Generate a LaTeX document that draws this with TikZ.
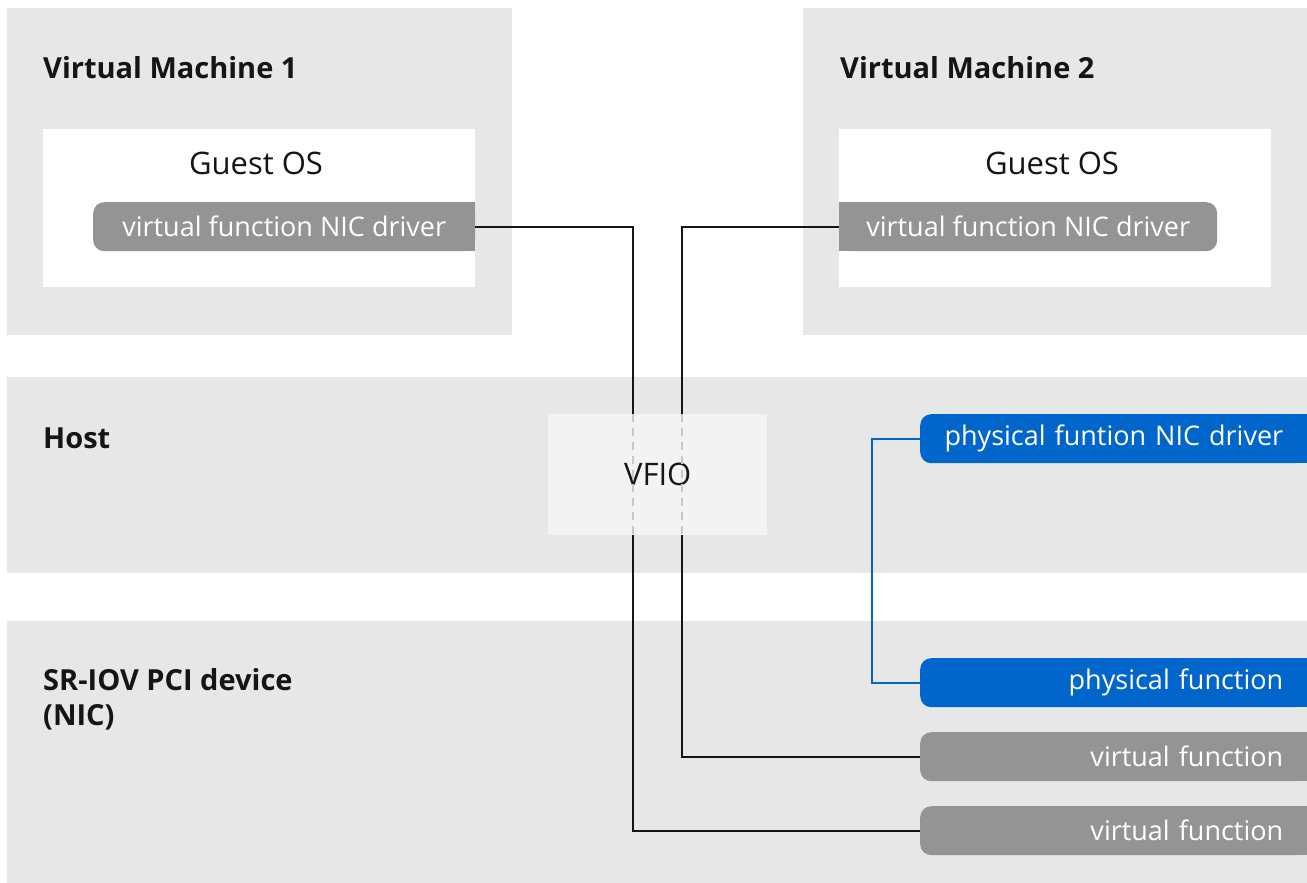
\documentclass[tikz,border=0pt]{standalone}
\usepackage{fontspec}
\setmainfont{Open Sans}
\usetikzlibrary{positioning,
                  calc}
\definecolor{panelgrey}{HTML}{E7E7E7}
\definecolor{pillgrey}{HTML}{949494}
\definecolor{rhblue}{HTML}{0066CC}
\definecolor{vfiofill}{HTML}{F3F3F3}
\definecolor{dashgrey}{HTML}{C8C8C8}
\definecolor{inkblack}{HTML}{151515}
\pgfdeclarelayer{panel}
\pgfdeclarelayer{pillbg}
\pgfsetlayers{panel,pillbg,main}

\begin{document}
\begin{tikzpicture}[x=1pt, y=-1pt, every node/.style={font=\fontsize{27}{32}\selectfont, text=inkblack}]
    \tikzset{
    panel/.style={fill=panelgrey, shape=rectangle, anchor=north west, inner sep=0pt},
    guest/.style={fill=white, shape=rectangle, anchor=north west, inner sep=0pt, minimum width=432pt, minimum height=158pt},
    title/.style={font=\fontsize{29}{35}\selectfont\bfseries, anchor=base west, inner sep=0pt, align=left},
    label/.style={font=\fontsize{31}{36}\selectfont, inner sep=0pt},
    pill/.style={fill=pillgrey, rounded corners=11pt, anchor=north west, inner sep=0pt, text=white, minimum height=49pt},
    rpill/.style={pill, inner xsep=24pt, text width=339pt, align=right},
    wire/.style={draw=inkblack, line width=2.2pt},
    bluewire/.style={draw=rhblue, line width=2.2pt},
    ghost/.style={draw=dashgrey, line width=2.2pt, dash pattern=on 8pt off 6pt}
}
\clip (0,0) rectangle (1307,883);

% grey bands and white boxes
\begin{pgfonlayer}{panel}
\node [panel, minimum width=505pt, minimum height=327pt] (vm1) at (7,8) {};
\node [panel, minimum width=510pt, minimum height=327pt] (vm2) at (803,8) {};
\node [panel, minimum width=1310pt, minimum height=196pt] (host) at (7,377) {};
\node [panel, minimum width=1310pt, minimum height=270pt] (sriov) at (7,621) {};
\node [guest] (guest1) at (43,129) {};
\node [guest] (guest2) at (839,129) {};
\end{pgfonlayer}

\node [title] (vm1title) at (43,79) {Virtual Machine 1};
\node [title] (vm2title) at (840,79) {Virtual Machine 2};
\node [title] (hosttitle) at (43,448) {Host};
\node [title, anchor=west] (sriovtitle) at (43,699) {SR-IOV PCI device\\(NIC)};
\node [label] (guestos1) at (256,163) {Guest OS};
\node [label] (guestos2) at (1052,163) {Guest OS};

% pills
\node [pill, minimum width=382pt] (vfdrv1) at (93,202) {virtual function NIC driver};
\node [pill, minimum width=378pt] (vfdrv2) at (839,202) {virtual function NIC driver};
\node [rpill, fill=rhblue] (pfdrv) at (920,414) {physical funtion NIC driver};
\node [rpill, fill=rhblue] (pf) at (920,658) {physical function};
\node [rpill] (vf1) at (920,732) {virtual function};
\node [rpill] (vf2) at (920,806) {virtual function};

\begin{pgfonlayer}{pillbg}
\fill [pillgrey] (vfdrv1.north) rectangle (vfdrv1.south east);
\fill [pillgrey] (vfdrv2.north west) rectangle (vfdrv2.south);
\fill [rhblue] (pfdrv.north) rectangle (pfdrv.south east);
\fill [rhblue] (pf.north) rectangle (pf.south east);
\fill [pillgrey] (vf1.north) rectangle (vf1.south east);
\fill [pillgrey] (vf2.north) rectangle (vf2.south east);
\end{pgfonlayer}

\coordinate (lane1) at (633,0);
\coordinate (lane2) at (682,0);
\coordinate (lane3) at (872,0);

\path [wire] (vfdrv1.east) -| (lane1 |- vf2.west) -- (vf2.west);
\path [wire] (vfdrv2.west) -| (lane2 |- vf1.west) -- (vf1.west);
\path [bluewire] (pfdrv.west) -| (lane3 |- pf.west) -- (pf.west);

\node [label, fill=vfiofill, minimum width=219pt, minimum height=121pt, anchor=north west] (vfio) at (548,414) {VFIO};
\path [ghost] (lane1 |- vfio.north) -- (lane1 |- vfio.south);
\path [ghost] (lane2 |- vfio.north) -- (lane2 |- vfio.south);

\end{tikzpicture}
\end{document}
